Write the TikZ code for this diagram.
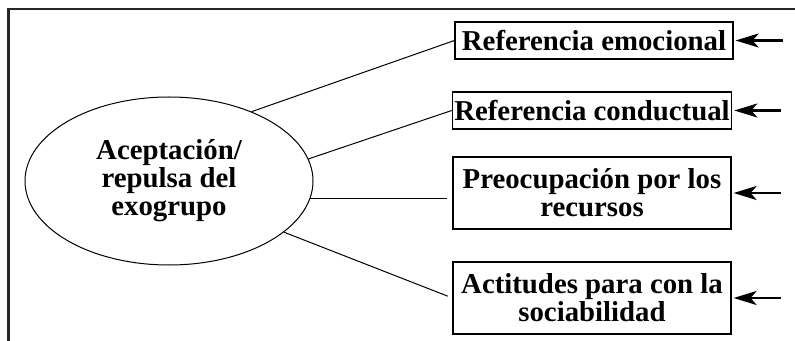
\documentclass[tikz,border=0pt]{standalone}
\usepackage{fontspec}
\setmainfont{Liberation Serif}
\usetikzlibrary{positioning,arrows.meta,shapes.geometric}

\begin{document}
\begin{tikzpicture}[x=0.5pt, y=-0.5pt, font=\fontsize{14.4}{14}\selectfont\bfseries,
	factor/.style={draw, line width=0.6pt, rectangle, align=center, minimum width=139pt, inner sep=1pt},
	inarrow/.style={-{Stealth[length=11.5pt, width=7pt, inset=3pt]}, line width=1.1pt, shorten >=1pt}]
	\useasboundingbox (0,0) rectangle (795,341);
	% outer frame, open at the right and the bottom
	\draw[line width=1.4pt, black!85] (8.5,350) -- (8.5,9) -- (800,9);

	% central construct
	\node[draw, ellipse, line width=0.5pt, minimum width=144pt, minimum height=84pt, inner sep=0pt, align=center] (exo) at (169,181) {Aceptación/\\repulsa del\\exogrupo};

	% the four components, stacked at the right
	\node[factor, minimum height=18.5pt] (b1) at (594,40.5) {Referencia emocional};
	\node[factor, minimum height=18.5pt] (b2) at (592,110.5) {Referencia conductual};
	\node[factor, minimum height=36pt] (b3) at (592,193) {Preocupación por los\\recursos};
	\node[factor, minimum height=36pt] (b4) at (592,298) {Actitudes para con la\\sociabilidad};

	% links from the construct to each component
	\draw[line width=0.5pt] (exo.40) -- (b1.west);
	\draw[line width=0.5pt] (exo.9) -- (b2.west);
	\draw[line width=0.5pt, shorten >=2.5pt] (exo.-7) -- (exo.-7 -| b3.west);
	\draw[line width=0.5pt, shorten >=2.5pt] (exo.-24) -- (b4.west);

	% incoming arrows on the right
	\foreach \b in {b1,b2,b3,b4}
		\draw[inarrow] ([xshift=24.5pt]\b.east) -- (\b.east);
\end{tikzpicture}
\end{document}
